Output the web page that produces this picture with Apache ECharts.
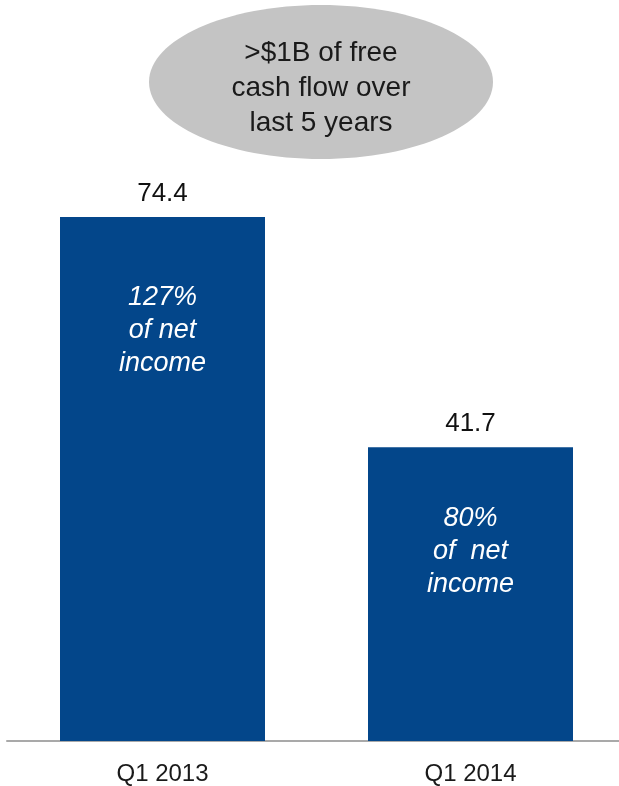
<!DOCTYPE html>
<html>
<head>
<meta charset="utf-8">
<script src="https://cdn.jsdelivr.net/npm/echarts@6/dist/echarts.min.js"></script>
<style>html,body{margin:0;padding:0;background:#fff}#c{width:619px;height:786px}</style>
</head>
<body>
<div id="c"></div>
<script>
const categories = ['Q1 2013', 'Q1 2014'];
const values = [74.4, 41.7];
const innerLabels = ['127%\nof net\nincome', '80%\nof  net\nincome'];
const calloutText = '>$1B of free\ncash flow over\nlast 5 years';

const FONT = '"Liberation Sans", Arial, sans-serif';
const chart = echarts.init(document.getElementById('c'));
chart.setOption({
  animation: false,
  backgroundColor: '#ffffff',
  grid: [
    { left: 162.5, right: 148.5, top: 36.7, bottom: 45 },
    { left: 7, right: 0, top: 36.7, bottom: 45 }
  ],
  xAxis: [
    {
      type: 'category',
      gridIndex: 0,
      data: categories,
      boundaryGap: false,
      axisLine: { show: false },
      axisTick: { show: false },
      splitLine: { show: false },
      axisLabel: { fontFamily: FONT, fontSize: 24, color: '#1a1a1a', margin: 21 }
    },
    {
      type: 'value',
      gridIndex: 1,
      min: 0, max: 1,
      axisLine: { show: true, lineStyle: { color: '#a9a9a9', width: 2 } },
      axisTick: { show: false },
      axisLabel: { show: false },
      splitLine: { show: false }
    }
  ],
  yAxis: [
    { type: 'value', gridIndex: 0, min: 0, max: 100, show: false, splitLine: { show: false } },
    { type: 'value', gridIndex: 1, min: 0, max: 100, show: false, splitLine: { show: false } }
  ],
  series: [
    {
      type: 'bar',
      data: values,
      barWidth: 205,
      clip: false,
      itemStyle: { color: '#03468a' },
      label: {
        show: true, position: 'top', distance: 10,
        fontFamily: FONT, fontSize: 26, color: '#111111',
        formatter: p => p.value.toFixed(1)
      },
      z: 2
    },
    {
      type: 'bar',
      data: values.map((v, i) => ({
        value: v,
        label: { position: ['50%', i === 0 ? 64 : 55] }
      })),
      barWidth: 205,
      barGap: '-100%',
      clip: false,
      itemStyle: { color: 'rgba(0,0,0,0)' },
      label: {
        show: true, align: 'center', verticalAlign: 'top',
        fontFamily: FONT, fontSize: 27, fontStyle: 'italic', color: '#ffffff',
        lineHeight: 33,
        formatter: p => innerLabels[p.dataIndex]
      },
      z: 3,
      silent: true
    }
  ],
  graphic: [
    {
      type: 'ellipse',
      shape: { cx: 321, cy: 82, rx: 172, ry: 77 },
      style: { fill: '#c4c4c4' },
      z: 10
    },
    {
      type: 'text',
      x: 321, y: 88,
      style: {
        text: calloutText,
        fontFamily: FONT, fontSize: 28, fill: '#1a1a1a',
        align: 'center', verticalAlign: 'middle', lineHeight: 35
      },
      z: 11
    }
  ]
});
</script>
</body>
</html>
